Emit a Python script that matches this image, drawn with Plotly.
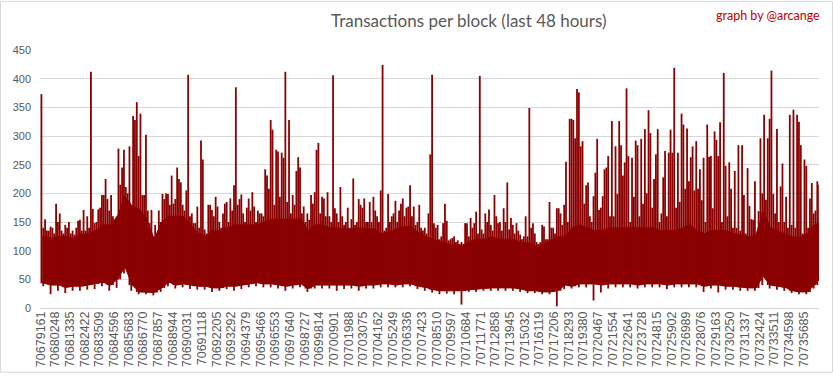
import plotly.graph_objects as go

# ---------------- data ----------------
tick_blocks = [70679161, 70680248, 70681335, 70682422, 70683509, 70684596, 70685683,
               70686770, 70687857, 70688944, 70690031, 70691118, 70692205, 70693292,
               70694379, 70695466, 70696553, 70697640, 70698727, 70699814, 70700901,
               70701988, 70703075, 70704162, 70705249, 70706336, 70707423, 70708510,
               70709597, 70710684, 70711771, 70712858, 70713945, 70715032, 70716119,
               70717206, 70718293, 70719380, 70720467, 70721554, 70722641, 70723728,
               70724815, 70725902, 70726989, 70728076, 70729163, 70730250, 70731337,
               70732424, 70733511, 70734598, 70735685]
tick_labels = [str(b) for b in tick_blocks]

first_block = 70679161
blocks_per_bin = 543.5      # groups of blocks (half a label step)
slots_per_bin = 4           # each bin split into 4 slots for the peak values

# typical upper / lower level of the dense body for each bin
bin_top = [125, 122, 125, 125, 122, 128, 130, 135, 145, 145,
           160, 195, 178, 172, 155, 120, 150, 160, 160, 160,
           145, 130, 125, 135, 135, 140, 145, 145, 145, 145,
           150, 155, 155, 155, 155, 155, 135, 145, 145, 140,
           140, 138, 138, 140, 138, 138, 130, 132, 138, 142,
           142, 132, 125, 120, 116, 112, 110, 108, 116, 120,
           120, 124, 120, 120, 120, 114, 114, 108, 112, 118,
           124, 125, 140, 145, 140, 135, 135, 140, 140, 140,
           140, 140, 140, 140, 135, 135, 135, 140, 145, 135,
           130, 135, 135, 135, 130, 127, 124, 127, 168, 140,
           135, 130, 124, 124, 130, 145, 150]
bin_bottom = [43, 40, 40, 36, 38, 38, 40, 42, 45, 40,
              50, 72, 40, 28, 28, 27, 35, 45, 40, 42,
              40, 38, 38, 35, 35, 38, 38, 40, 42, 44,
              42, 42, 40, 38, 40, 42, 34, 40, 40, 40,
              40, 40, 40, 38, 40, 40, 42, 42, 40, 42,
              42, 38, 36, 32, 30, 30, 30, 30, 32, 33,
              35, 35, 35, 35, 35, 33, 30, 30, 28, 28,
              30, 40, 38, 42, 42, 42, 40, 42, 42, 42,
              42, 40, 42, 42, 42, 40, 42, 42, 42, 42,
              38, 40, 40, 38, 38, 36, 35, 35, 55, 40,
              38, 36, 30, 28, 28, 40, 55]
# lowest value found in each bin
bin_min = [38, 24, 30, 26, 30, 30, 32, 33, 38, 30,
           35, 60, 30, 24, 24, 22, 28, 38, 34, 36,
           33, 32, 32, 28, 30, 33, 30, 33, 36, 38,
           36, 36, 34, 30, 34, 36, 28, 34, 34, 34,
           30, 33, 34, 30, 34, 34, 36, 36, 36, 36,
           38, 33, 30, 27, 24, 25, 24, 6, 28, 28,
           30, 30, 30, 30, 30, 28, 26, 26, 24, 24,
           3, 33, 34, 36, 36, 13, 27, 34, 36, 36,
           36, 34, 36, 36, 36, 33, 36, 36, 36, 36,
           28, 34, 27, 32, 32, 30, 30, 30, 40, 34,
           32, 30, 26, 24, 24, 34, 50]
# highest value found in each slot (4 slots per bin)
slot_max = [373, 140, 155, 135,  135, 142, 140, 130,  182, 150, 165, 135,  130, 145, 140, 150,
            130, 135, 128, 140,  152, 154, 135, 171,  135, 160, 140, 412,  173, 148, 150, 172,
            175, 197, 197, 225,  190, 170, 197, 160,  142, 140, 278, 215,  245, 276, 211, 200,
            282, 174, 335, 328,  359, 265, 339, 197,  197, 302, 170, 148,  171, 125, 145, 130,
            170, 150, 199, 190,  200, 199, 180, 231,  182, 190, 245, 225,  219, 180, 170, 205,
            407, 160, 165, 148,  148, 177, 140, 292,  259, 137, 130, 180,  180, 171, 160, 194,
            177, 150, 140, 165,  182, 185, 150, 191,  170, 214, 385, 180,  190, 198, 165, 150,
            175, 191, 170, 202,  177, 150, 170, 165,  165, 160, 242, 231,  208, 328, 311, 180,
            276, 273, 194, 271,  262, 412, 185, 328,  165, 197, 180, 239,  263, 245, 165, 177,
            150, 165, 154, 197,  182, 202, 276, 288,  165, 194, 191, 160,  202, 160, 150, 406,
            174, 165, 150, 211,  160, 145, 150, 175,  140, 155, 226, 145,  150, 190, 180, 175,
            191, 150, 150, 185,  150, 194, 170, 160,  150, 205, 424, 135,  140, 199, 150, 160,
            165, 187, 150, 170,  182, 191, 160, 175,  177, 214, 160, 177,  145, 150, 180, 140,
            135, 140, 130, 165,  268, 407, 148, 140,  145, 120, 125, 148,  182, 152, 118, 120,
            122, 125, 115, 118,  112, 115, 112, 148,  148, 125, 157, 140,  148, 168, 130, 405,
            137, 130, 165, 150,  172, 145, 135, 197,  160, 148, 150, 135,  174, 150, 219, 137,
            157, 145, 130, 148,  135, 128, 120, 125,  160, 125, 349, 140,  148, 130, 115, 112,
            115, 145, 142, 120,  120, 185, 140, 140,  130, 174, 174, 165,  145, 180, 255, 150,
            330, 330, 328, 296,  382, 376, 282, 291,  182, 214, 219, 160,  150, 195, 236, 295,
            171, 175, 195, 242,  245, 265, 160, 326,  160, 282, 199, 326,  284, 231, 254, 383,
            265, 150, 262, 194,  292, 284, 160, 295,  182, 312, 200, 345,  305, 175, 225, 268,
            312, 150, 165, 228,  274, 160, 271, 311,  271, 419, 175, 271,  185, 339, 320, 208,
            313, 221, 263, 282,  205, 291, 208, 242,  188, 262, 150, 320,  264, 265, 174, 308,
            293, 265, 324, 150,  410, 248, 160, 254,  208, 140, 239, 140,  284, 135, 284, 197,
            130, 244, 178, 155,  154, 221, 125, 169,  296, 200, 337, 189,  296, 330, 414, 199,
            165, 312, 150, 212,  252, 150, 194, 140,  337, 145, 346, 140,  337, 325, 284, 130,
            259, 248, 140, 191,  218, 165, 170, 221,  215, 150, 150, 150]

x_range = [70679125, 70736830]

# ---------------- styles ----------------
RED = "#8B0000"
GRID = "#D9D9D9"
TXT = "#595959"

# ---------------- build traces ----------------
x_bin = [first_block + (i + 0.5) * blocks_per_bin for i in range(len(bin_top))]
slot_blocks = blocks_per_bin / slots_per_bin

nx, ny = [], []
for k, v in enumerate(slot_max):
    h = k // slots_per_bin
    xb = first_block + (k + 0.5) * slot_blocks
    nx += [xb, xb, None]
    ny += [bin_bottom[h], v, None]
for h, v in enumerate(bin_min):
    xb = first_block + (h * slots_per_bin + 1.5) * slot_blocks
    nx += [xb, xb, None]
    ny += [v, bin_top[h], None]

fig = go.Figure()
fig.add_trace(go.Scatter(x=x_bin, y=bin_bottom, mode="lines",
                         line=dict(color=RED, width=1), hoverinfo="skip"))
fig.add_trace(go.Scatter(x=x_bin, y=bin_top, mode="lines", fill="tonexty",
                         fillcolor=RED, line=dict(color=RED, width=1), hoverinfo="skip"))
fig.add_trace(go.Scatter(x=nx, y=ny, mode="lines", connectgaps=False,
                         line=dict(color=RED, width=1.8), hoverinfo="skip"))

W, H = 833, 379
ML, MR, MT, MB = 40, 14, 50, 66
pw, ph = W - ML - MR, H - MT - MB


def px_x(px):
    return (px - ML) / pw


def px_y(py):
    return (H - MB - py) / ph


fig.update_layout(
    width=W, height=H,
    margin=dict(l=ML, r=MR, t=MT, b=MB),
    paper_bgcolor="white", plot_bgcolor="white",
    showlegend=False,
    font=dict(family="Liberation Sans, Arial, sans-serif", color=TXT),
    xaxis=dict(range=x_range, tickmode="array", tickvals=tick_blocks, ticktext=tick_labels,
               tickangle=-90, tickfont=dict(size=12.5, color=TXT,
                                            family="Liberation Sans, Arial, sans-serif"),
               showgrid=False, zeroline=False, showline=False, ticks=""),
    yaxis=dict(range=[0, 450], dtick=50, tick0=0, gridcolor=GRID, gridwidth=1,
               zeroline=True, zerolinecolor=GRID, zerolinewidth=1, showline=False,
               ticks="", ticklabelstandoff=8,
               tickfont=dict(size=11, color=TXT, family="Liberation Sans, Arial, sans-serif")),
    annotations=[
        dict(text="Transactions per block (last 48 hours)", xref="paper", yref="paper",
             x=px_x(469), y=px_y(20), xanchor="center", yanchor="middle", showarrow=False,
             font=dict(family="Lato, sans-serif", size=17, color=TXT)),
        dict(text="graph by @arcange", xref="paper", yref="paper",
             x=px_x(822), y=px_y(15), xanchor="right", yanchor="middle", showarrow=False,
             font=dict(family="Lato, sans-serif", size=12.5, color="#C00000")),
    ],
    shapes=[dict(type="rect", xref="paper", yref="paper",
                 x0=px_x(0.5), x1=px_x(832.5), y0=px_y(378.5), y1=px_y(0.5),
                 line=dict(color=GRID, width=1), fillcolor="rgba(0,0,0,0)", layer="below")],
)

fig.write_html("out.html", config={"displayModeBar": False},
               post_script="document.body.style.margin='0px';document.body.style.overflow='hidden';")
